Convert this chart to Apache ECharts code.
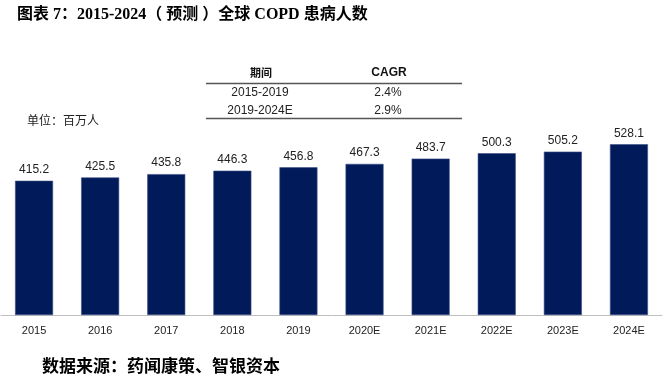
<!DOCTYPE html>
<html>
<head>
<meta charset="utf-8">
<style>
html,body{margin:0;padding:0;background:#fff;}
#c{width:669px;height:384px;}
</style>
<script src="https://cdn.jsdelivr.net/npm/echarts@6/dist/echarts.min.js"></script>
</head>
<body>
<div id="c"></div>
<script>
const categories = ['2015','2016','2017','2018','2019','2020E','2021E','2022E','2023E','2024E'];
const patients = [415.2, 425.5, 435.8, 446.3, 456.8, 467.3, 483.7, 500.3, 505.2, 528.1];
const tableHeader = ['期间', 'CAGR'];
const periods = ['2015-2019', '2019-2024E'];
const cagr = ['2.4%', '2.9%'];

const narrow = '"Liberation Sans Narrow", "Arial Narrow", "Liberation Sans", Arial, sans-serif';
const cjk = '"Liberation Serif", "Noto Sans CJK SC", serif';

const chart = echarts.init(document.getElementById('c'), null, {renderer: 'canvas'});

const graphics = [
  {type: 'text', left: 17, top: 7, style: {text: '图表 7：2015-2024（ 预测 ）全球 COPD 患病人数', font: 'bold 16px ' + cjk, fill: '#000'}},
  {type: 'text', left: 27, top: 114, style: {text: '单位：百万人', font: '12px "Noto Sans CJK SC", sans-serif', fill: '#222'}},
  {type: 'text', left: 42, top: 357, style: {text: '数据来源：药闻康策、智银资本', font: 'bold 17px "Noto Sans CJK SC", serif', fill: '#000'}},
  {type: 'line', shape: {x1: 206, y1: 83.5, x2: 462, y2: 83.5}, style: {stroke: '#555', lineWidth: 1.5}},
  {type: 'line', shape: {x1: 206, y1: 118.5, x2: 462, y2: 118.5}, style: {stroke: '#555', lineWidth: 1.5}},
  {type: 'text', x: 261, y: 73, style: {text: tableHeader[0], font: 'bold 11px "Noto Sans CJK SC", sans-serif', fill: '#111', align: 'center', verticalAlign: 'middle'}},
  {type: 'text', x: 389, y: 73, style: {text: tableHeader[1], font: 'bold 12px ' + narrow, fill: '#111', align: 'center', verticalAlign: 'middle'}}
];
periods.forEach((p, i) => {
  const y = 93 + i * 17.5;
  graphics.push({type: 'text', x: 260, y: y, style: {text: p, font: '12px ' + narrow, fill: '#222', align: 'center', verticalAlign: 'middle'}});
  graphics.push({type: 'text', x: 388, y: y, style: {text: cagr[i], font: '12px ' + narrow, fill: '#222', align: 'center', verticalAlign: 'middle'}});
});

chart.setOption({
  backgroundColor: '#fff',
  animation: false,
  grid: {left: 1, right: 7, top: 121, bottom: 69, containLabel: false},
  xAxis: {
    type: 'category',
    data: categories,
    axisLine: {show: true, lineStyle: {color: '#bfbfbf', width: 1}},
    axisTick: {show: false},
    axisLabel: {color: '#222', fontSize: 11, fontFamily: narrow, margin: 10}
  },
  yAxis: {
    type: 'value',
    min: 0,
    max: 600,
    show: false,
    splitLine: {show: false}
  },
  series: [{
    type: 'bar',
    data: patients,
    barWidth: 38,
    itemStyle: {color: '#011b5a', borderColor: '#3d4f85', borderWidth: 0.6},
    label: {show: true, position: 'top', distance: 5, color: '#222', fontSize: 12, fontFamily: narrow,
      formatter: p => p.value.toFixed(1)}
  }],
  graphic: graphics
});
</script>
</body>
</html>
